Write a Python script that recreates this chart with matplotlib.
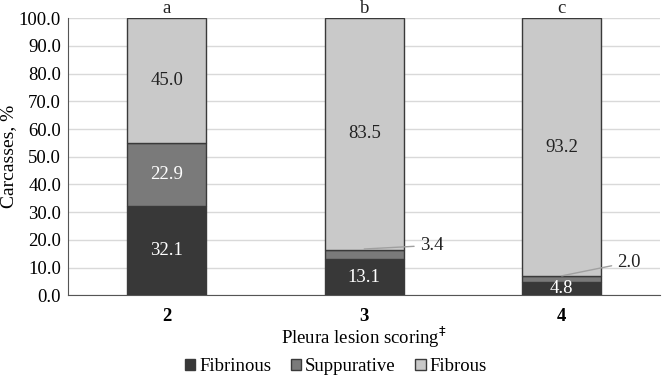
import matplotlib.pyplot as plt
import numpy as np

plt.rcParams['font.family'] = ['Liberation Serif', 'DejaVu Serif']

scores = ['2', '3', '4']
letters = ['a', 'b', 'c']
fibrinous = [32.1, 13.1, 4.8]
suppurative = [22.9, 3.4, 2.0]
fibrous = [45.0, 83.5, 93.2]

colors = ['#383838', '#7a7a7a', '#c9c9c9']
edge = '#3a3a3a'

fig = plt.figure(figsize=(6.62, 3.79), dpi=100)
ax = fig.add_axes([0.1027, 0.221, 0.895, 0.7307])

x = np.arange(len(scores))
w = 0.40
ax.bar(x, fibrinous, w, color=colors[0], edgecolor=edge, linewidth=1, label='Fibrinous', zorder=3)
ax.bar(x, suppurative, w, bottom=fibrinous, color=colors[1], edgecolor=edge, linewidth=1,
       label='Suppurative', zorder=3)
bottom3 = np.array(fibrinous) + np.array(suppurative)
ax.bar(x, fibrous, w, bottom=bottom3, color=colors[2], edgecolor=edge, linewidth=1,
       label='Fibrous', zorder=3)

fs = 13.5
for i in range(len(x)):
    ax.text(x[i], bottom3[i] + fibrous[i] / 2, f'{fibrous[i]:.1f}', ha='center', va='center',
            fontsize=fs, color='#222222', zorder=4)
    ax.text(x[i], fibrinous[i] / 2, f'{fibrinous[i]:.1f}', ha='center', va='center',
            fontsize=fs, color='white', zorder=4)
    ax.text(x[i], 103.5, letters[i], ha='center', va='center', fontsize=fs, color='#222222')

# suppurative: inside for the first bar, outside with a leader line for the others
ax.text(x[0], fibrinous[0] + suppurative[0] / 2, f'{suppurative[0]:.1f}', ha='center', va='center',
        fontsize=fs, color='white', zorder=4)
label_pos = {1: (0.34, 18.0), 2: (0.34, 11.9)}
for i, (dx, ly) in label_pos.items():
    ax.annotate(f'{suppurative[i]:.1f}', xy=(x[i], bottom3[i] + 0.2), xytext=(x[i] + dx, ly),
                ha='center', va='center', fontsize=fs, color='#222222', zorder=5,
                arrowprops=dict(arrowstyle='-', color='#a0a0a0', lw=1, shrinkA=2, shrinkB=0))

ax.set_ylim(0, 100)
ax.set_xlim(-0.5, 2.5)
ax.set_yticks(np.arange(0, 101, 10))
ax.set_yticklabels([f'{v:.1f}' for v in np.arange(0, 101, 10)], fontsize=13.5)
ax.set_xticks(x)
ax.set_xticklabels(scores, fontsize=13.5, fontweight='bold')
ax.tick_params(axis='y', length=0, pad=5)
ax.tick_params(axis='x', length=0, pad=9)
ax.yaxis.grid(True, color='#d9d9d9', linewidth=1, zorder=0)
ax.set_axisbelow(True)
for s in ['top', 'right']:
    ax.spines[s].set_visible(False)
ax.spines['left'].set_color('#555555')
ax.spines['bottom'].set_color('#555555')

ax.set_ylabel('Carcasses, %', fontsize=14, labelpad=1)
ax.set_xlabel(r'Pleura lesion scoring$^{\ddagger}$', fontsize=13.5, labelpad=0)

ax.legend(loc='center', bbox_to_anchor=(0.452, -0.259), ncol=3, frameon=False,
          fontsize=13.5, handlelength=0.55, handleheight=0.55, handletextpad=0.2, columnspacing=1.05)

fig.savefig('out.png', dpi=100)
